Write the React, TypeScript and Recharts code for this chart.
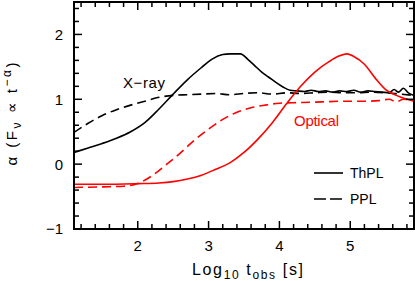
import React from 'react';
import { LineChart, Line, XAxis, YAxis } from 'recharts';

const FONT = '"Liberation Sans", Arial, Helvetica, sans-serif';
const RED = '#ff0000';
const W = 415;
const H = 281;
// plot box in pixels
const BOX = { left: 74, top: 2, right: 414, bottom: 229 };

// axis ranges and labelled ticks
const xDomain = [1.1, 5.9];
const yDomain = [-1, 2.5];
const xMajor = [2, 3, 4, 5];
const yMajor = [-1, 0, 1, 2];
// minor ticks every 0.2
const xTicks = Array.from({ length: 24 }, (_, i) => Math.round((1.2 + 0.2 * i) * 10) / 10);
const yTicks = Array.from({ length: 18 }, (_, i) => Math.round((-1 + 0.2 * i) * 10) / 10);

// [log10 t_obs, alpha]
const xrayThpl = [
  [1.1, 0.18], [1.3, 0.25], [1.5, 0.32], [1.7, 0.4], [1.9, 0.5], [2.1, 0.64], [2.3, 0.85],
  [2.5, 1.08], [2.7, 1.3], [2.9, 1.49], [3.05, 1.62], [3.2, 1.69], [3.3, 1.7], [3.45, 1.7],
  [3.55, 1.62], [3.65, 1.52], [3.75, 1.42], [3.85, 1.34], [3.95, 1.26], [4.05, 1.19],
  [4.15, 1.14], [4.25, 1.13], [4.35, 1.12], [4.45, 1.14], [4.55, 1.12], [4.65, 1.13],
  [4.75, 1.11], [4.85, 1.13], [4.95, 1.12], [5.05, 1.14], [5.15, 1.11], [5.25, 1.13],
  [5.35, 1.12], [5.45, 1.11], [5.55, 1.1], [5.62, 1.15], [5.68, 1.11], [5.75, 1.17],
  [5.82, 1.1], [5.9, 1.06],
];
const xrayPpl = [
  [1.1, 0.49], [1.3, 0.63], [1.5, 0.75], [1.7, 0.84], [1.9, 0.91], [2.1, 0.97], [2.3, 1.03],
  [2.5, 1.06], [2.7, 1.07], [2.9, 1.08], [3.1, 1.09], [3.3, 1.07], [3.5, 1.09], [3.7, 1.1],
  [3.9, 1.08], [4.1, 1.1], [4.3, 1.09], [4.5, 1.1], [4.7, 1.11], [4.9, 1.1], [5.1, 1.1],
  [5.3, 1.11], [5.5, 1.1], [5.7, 1.08], [5.9, 1.06],
];
const opticalThpl = [
  [1.1, -0.31], [1.5, -0.31], [2.0, -0.3], [2.3, -0.29], [2.5, -0.27], [2.7, -0.23],
  [2.9, -0.17], [3.1, -0.08], [3.3, 0.02], [3.5, 0.18], [3.7, 0.39], [3.9, 0.64], [4.1, 0.93],
  [4.3, 1.2], [4.5, 1.42], [4.7, 1.58], [4.85, 1.67], [4.95, 1.7], [5.05, 1.66], [5.2, 1.54],
  [5.35, 1.33], [5.5, 1.15], [5.65, 1.06], [5.8, 1.0], [5.9, 0.97],
];
const opticalPpl = [
  [1.1, -0.36], [1.5, -0.35], [1.8, -0.34], [2.0, -0.3], [2.2, -0.18], [2.4, -0.01],
  [2.6, 0.17], [2.8, 0.37], [3.0, 0.54], [3.2, 0.69], [3.4, 0.8], [3.6, 0.87], [3.8, 0.91],
  [4.0, 0.94], [4.3, 0.95], [4.6, 0.96], [4.9, 0.97], [5.2, 0.97], [5.4, 0.98], [5.55, 1.0],
  [5.65, 0.96], [5.75, 1.0], [5.9, 0.99],
];

const toRows = (pts: number[][]) => pts.map(([x, y]) => ({ x, y }));
const fmt = (v: number) => (v < 0 ? '\u2212' + Math.abs(v) : String(v));

// same linear mapping the hidden recharts axes use, for the frame and ticks
const sx = (v: number) => BOX.left + ((v - xDomain[0]) / (xDomain[1] - xDomain[0])) * (BOX.right - BOX.left);
const sy = (v: number) => BOX.bottom - ((v - yDomain[0]) / (yDomain[1] - yDomain[0])) * (BOX.bottom - BOX.top);

function Frame() {
  const tk = { stroke: '#000', strokeWidth: 1.5 };
  return (
    <g>
      <rect x={BOX.left} y={BOX.top} width={BOX.right - BOX.left} height={BOX.bottom - BOX.top}
        fill="none" stroke="#000" strokeWidth={2} />
      {xTicks.map((v) => {
        const len = xMajor.includes(v) ? 8 : 5;
        const x = sx(v);
        return (
          <g key={'x' + v}>
            <line x1={x} x2={x} y1={BOX.bottom} y2={BOX.bottom - len} {...tk} />
            <line x1={x} x2={x} y1={BOX.top} y2={BOX.top + len} {...tk} />
          </g>
        );
      })}
      {yTicks.map((v) => {
        const len = yMajor.includes(v) ? 8 : 5;
        const y = sy(v);
        return (
          <g key={'y' + v}>
            <line x1={BOX.left} x2={BOX.left + len} y1={y} y2={y} {...tk} />
            <line x1={BOX.right} x2={BOX.right - len} y1={y} y2={y} {...tk} />
          </g>
        );
      })}
      {xMajor.map((v) => (
        <text key={'xl' + v} x={sx(v)} y={BOX.bottom + 22} textAnchor="middle" fontSize={15}>
          {fmt(v)}
        </text>
      ))}
      {yMajor.map((v) => (
        <text key={'yl' + v} x={BOX.left - 11} y={sy(v)} dy="0.36em" textAnchor="end" fontSize={15}>
          {fmt(v)}
        </text>
      ))}
    </g>
  );
}

export default function App() {
  return (
    <div style={{ position: 'absolute', left: 0, top: 0, width: W, height: H, background: '#fff' }}>
      <LineChart
        width={W}
        height={H}
        margin={{ top: BOX.top, right: W - BOX.right, left: BOX.left, bottom: H - BOX.bottom }}
      >
        <XAxis type="number" dataKey="x" domain={xDomain} allowDataOverflow hide />
        <YAxis type="number" domain={yDomain} allowDataOverflow hide />
        <Line data={toRows(xrayPpl)} dataKey="y" type="monotone" stroke="#000" strokeWidth={1.6}
          strokeDasharray="9 5" dot={false} isAnimationActive={false} />
        <Line data={toRows(xrayThpl)} dataKey="y" type="monotone" stroke="#000" strokeWidth={1.6}
          dot={false} isAnimationActive={false} />
        <Line data={toRows(opticalPpl)} dataKey="y" type="monotone" stroke={RED} strokeWidth={1.6}
          strokeDasharray="9 5" dot={false} isAnimationActive={false} />
        <Line data={toRows(opticalThpl)} dataKey="y" type="monotone" stroke={RED} strokeWidth={1.6}
          dot={false} isAnimationActive={false} />
      </LineChart>

      <svg style={{ position: 'absolute', left: 0, top: 0 }} width={W} height={H}
        fontFamily={FONT} fill="#000">
        <Frame />

        {/* annotations */}
        <text x={123} y={88} fontSize={15} textLength={42}>X{'\u2212'}ray</text>
        <text x={294} y={126} fontSize={15} fill={RED} textLength={45}>Optical</text>

        {/* legend */}
        <line x1={314} x2={343} y1={173} y2={173} stroke="#000" strokeWidth={1.6} />
        <line x1={314} x2={343} y1={199} y2={199} stroke="#000" strokeWidth={1.6} strokeDasharray="12 4" />
        <text x={350} y={178} fontSize={14}>ThPL</text>
        <text x={350} y={204} fontSize={14}>PPL</text>

        {/* axis titles */}
        <text x={192} y={275} fontSize={16} textLength={111}>
          Log<tspan fontSize={12} dy={4}>10</tspan>
          <tspan dy={-4}> t</tspan>
          <tspan fontSize={12} dy={4}>obs</tspan>
          <tspan dy={-4}> [s]</tspan>
        </text>
        <text transform="translate(17,114) rotate(-90)" textAnchor="middle" fontSize={15} textLength={103}>
          {'\u03b1'} (F<tspan fontSize={12} dy={4}>{'\u03bd'}</tspan>
          <tspan dy={-4}> {'\u221d'} t</tspan>
          <tspan fontSize={12} dy={-6}>{'\u2212\u03b1'}</tspan>
          <tspan dy={6}>)</tspan>
        </text>
      </svg>
    </div>
  );
}
